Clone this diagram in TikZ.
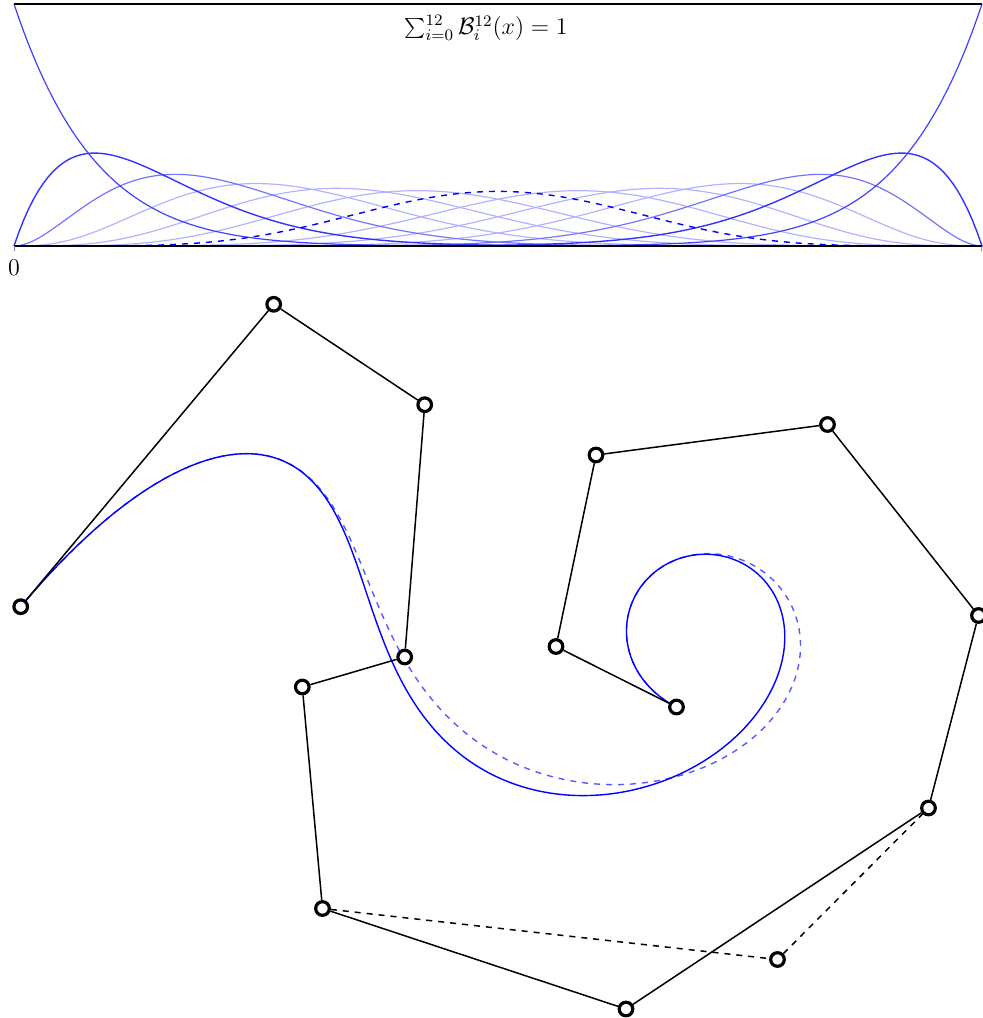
\documentclass[tikz,border=0pt]{standalone}
\usepackage{tikz}

% degree-12 Bezier value, #1 = t, then the 13 control values
\def\bz#1#2#3#4#5#6#7#8#9{\bzb{#1}{(1-#1)^12*#2+12*#1*(1-#1)^11*#3+66*#1^2*(1-#1)^10*#4+220*#1^3*(1-#1)^9*#5+495*#1^4*(1-#1)^8*#6+792*#1^5*(1-#1)^7*#7+924*#1^6*(1-#1)^6*#8+792*#1^7*(1-#1)^5*#9}}
\def\bzb#1#2#3#4#5#6#7{#2+495*#1^8*(1-#1)^4*#3+220*#1^9*(1-#1)^3*#4+66*#1^10*(1-#1)^2*#5+12*#1^11*(1-#1)*#6+#1^12*#7}

\begin{document}
\begin{tikzpicture}[x=0.5pt, y=-0.5pt, font=\large,
  bedge/.style={blue!75, line width=0.6pt},
  bnear/.style={blue!80, line width=0.7pt},
  bmid/.style={blue!55, line width=0.6pt},
  bfar/.style={blue!30, line width=0.6pt},
  bhl/.style={blue, dashed, line width=0.7pt},
  ctrl/.style={circle, draw, line width=1.6pt, fill=white, inner sep=0pt, minimum size=6.8pt},
  poly/.style={line width=0.75pt}]
\useasboundingbox (0,0) rectangle (982,1018);

% basis functions B_i^12
\foreach \i/\c/\s in {3/220/bfar,4/495/bfar,5/792/bfar,7/792/bfar,8/495/bfar,9/220/bfar,
                      2/66/bmid,10/66/bmid,1/12/bnear,11/12/bnear,0/1/bedge,12/1/bedge,6/924/bhl}{
  \foreach \k in {0,...,200}{
    \edef\tv{\fpeval{\k/200}}
    \edef\bx{\fpeval{round(14+968*\tv,3)}}
    \edef\by{\fpeval{round(246-242*\c*\tv^\i*(1-\tv)^(12-\i),3)}}
    \coordinate (b\i-\k) at (\bx,\by);
  }
  \draw[\s] (b\i-0) \foreach \k in {1,...,200}{ -- (b\i-\k)};
}

% axis and partition of unity
\coordinate (o) at (14,246);
\coordinate (e) at (982,246);
\coordinate (ot) at (14,4);
\coordinate (et) at (982,4);
\draw[line width=0.6pt] (o) -- (e);
\draw[line width=0.6pt] (ot) -- (et);
\draw[gray, line width=0.4pt] (o) -- ++(0,5);
\draw[gray, line width=0.4pt] (e) -- ++(-0.5,5);
\node (zero) at (14,268) {$0$};
\node (sum) at (486,28) {$\sum_{i=0}^{12}\mathcal{B}_i^{12}(x)=1$};

% curve and curve with P6 moved
\foreach \k in {0,...,240}{
  \edef\tv{\fpeval{\k/240}}
  \edef\bx{\fpeval{round(\bz{\tv}{20.7}{273.7}{424.7}{404.7}{302.3}{322.5}{626}{928.5}{978.5}{827.5}{596}{556}{676.5},3)}}
  \edef\by{\fpeval{round(\bz{\tv}{606.7}{304.3}{404.7}{657}{687}{908.5}{1009}{808}{615.5}{424.5}{455}{646.5}{707},3)}}
  \coordinate (s\k) at (\bx,\by);
  \edef\bx{\fpeval{round(\bz{\tv}{20.7}{273.7}{424.7}{404.7}{302.3}{322.5}{777.5}{928.5}{978.5}{827.5}{596}{556}{676.5},3)}}
  \edef\by{\fpeval{round(\bz{\tv}{606.7}{304.3}{404.7}{657}{687}{908.5}{959.5}{808}{615.5}{424.5}{455}{646.5}{707},3)}}
  \coordinate (m\k) at (\bx,\by);
}
\draw[blue!65, dashed, line width=0.7pt] (m0) \foreach \k in {1,...,240}{ -- (m\k)};
\draw[blue, line width=0.7pt] (s0) \foreach \k in {1,...,240}{ -- (s\k)};

% control points
\foreach \n/\x/\y in {0/20.7/606.7, 1/273.7/304.3, 2/424.7/404.7, 3/404.7/657, 4/302.3/687,
                      5/322.5/908.5, 6/626/1009, 7/928.5/808, 8/978.5/615.5, 9/827.5/424.5,
                      10/596/455, 11/556/646.5, 12/676.5/707}
  \node[ctrl] (p\n) at (\x,\y) {};
\node[ctrl] (q6) at (777.5,959.5) {};

\draw[poly] (p0) -- (p1) -- (p2) -- (p3) -- (p4) -- (p5) -- (p6) -- (p7) -- (p8) -- (p9) -- (p10) -- (p11) -- (p12);
\draw[poly, dashed] (p5) -- (q6) -- (p7);
\end{tikzpicture}
\end{document}
